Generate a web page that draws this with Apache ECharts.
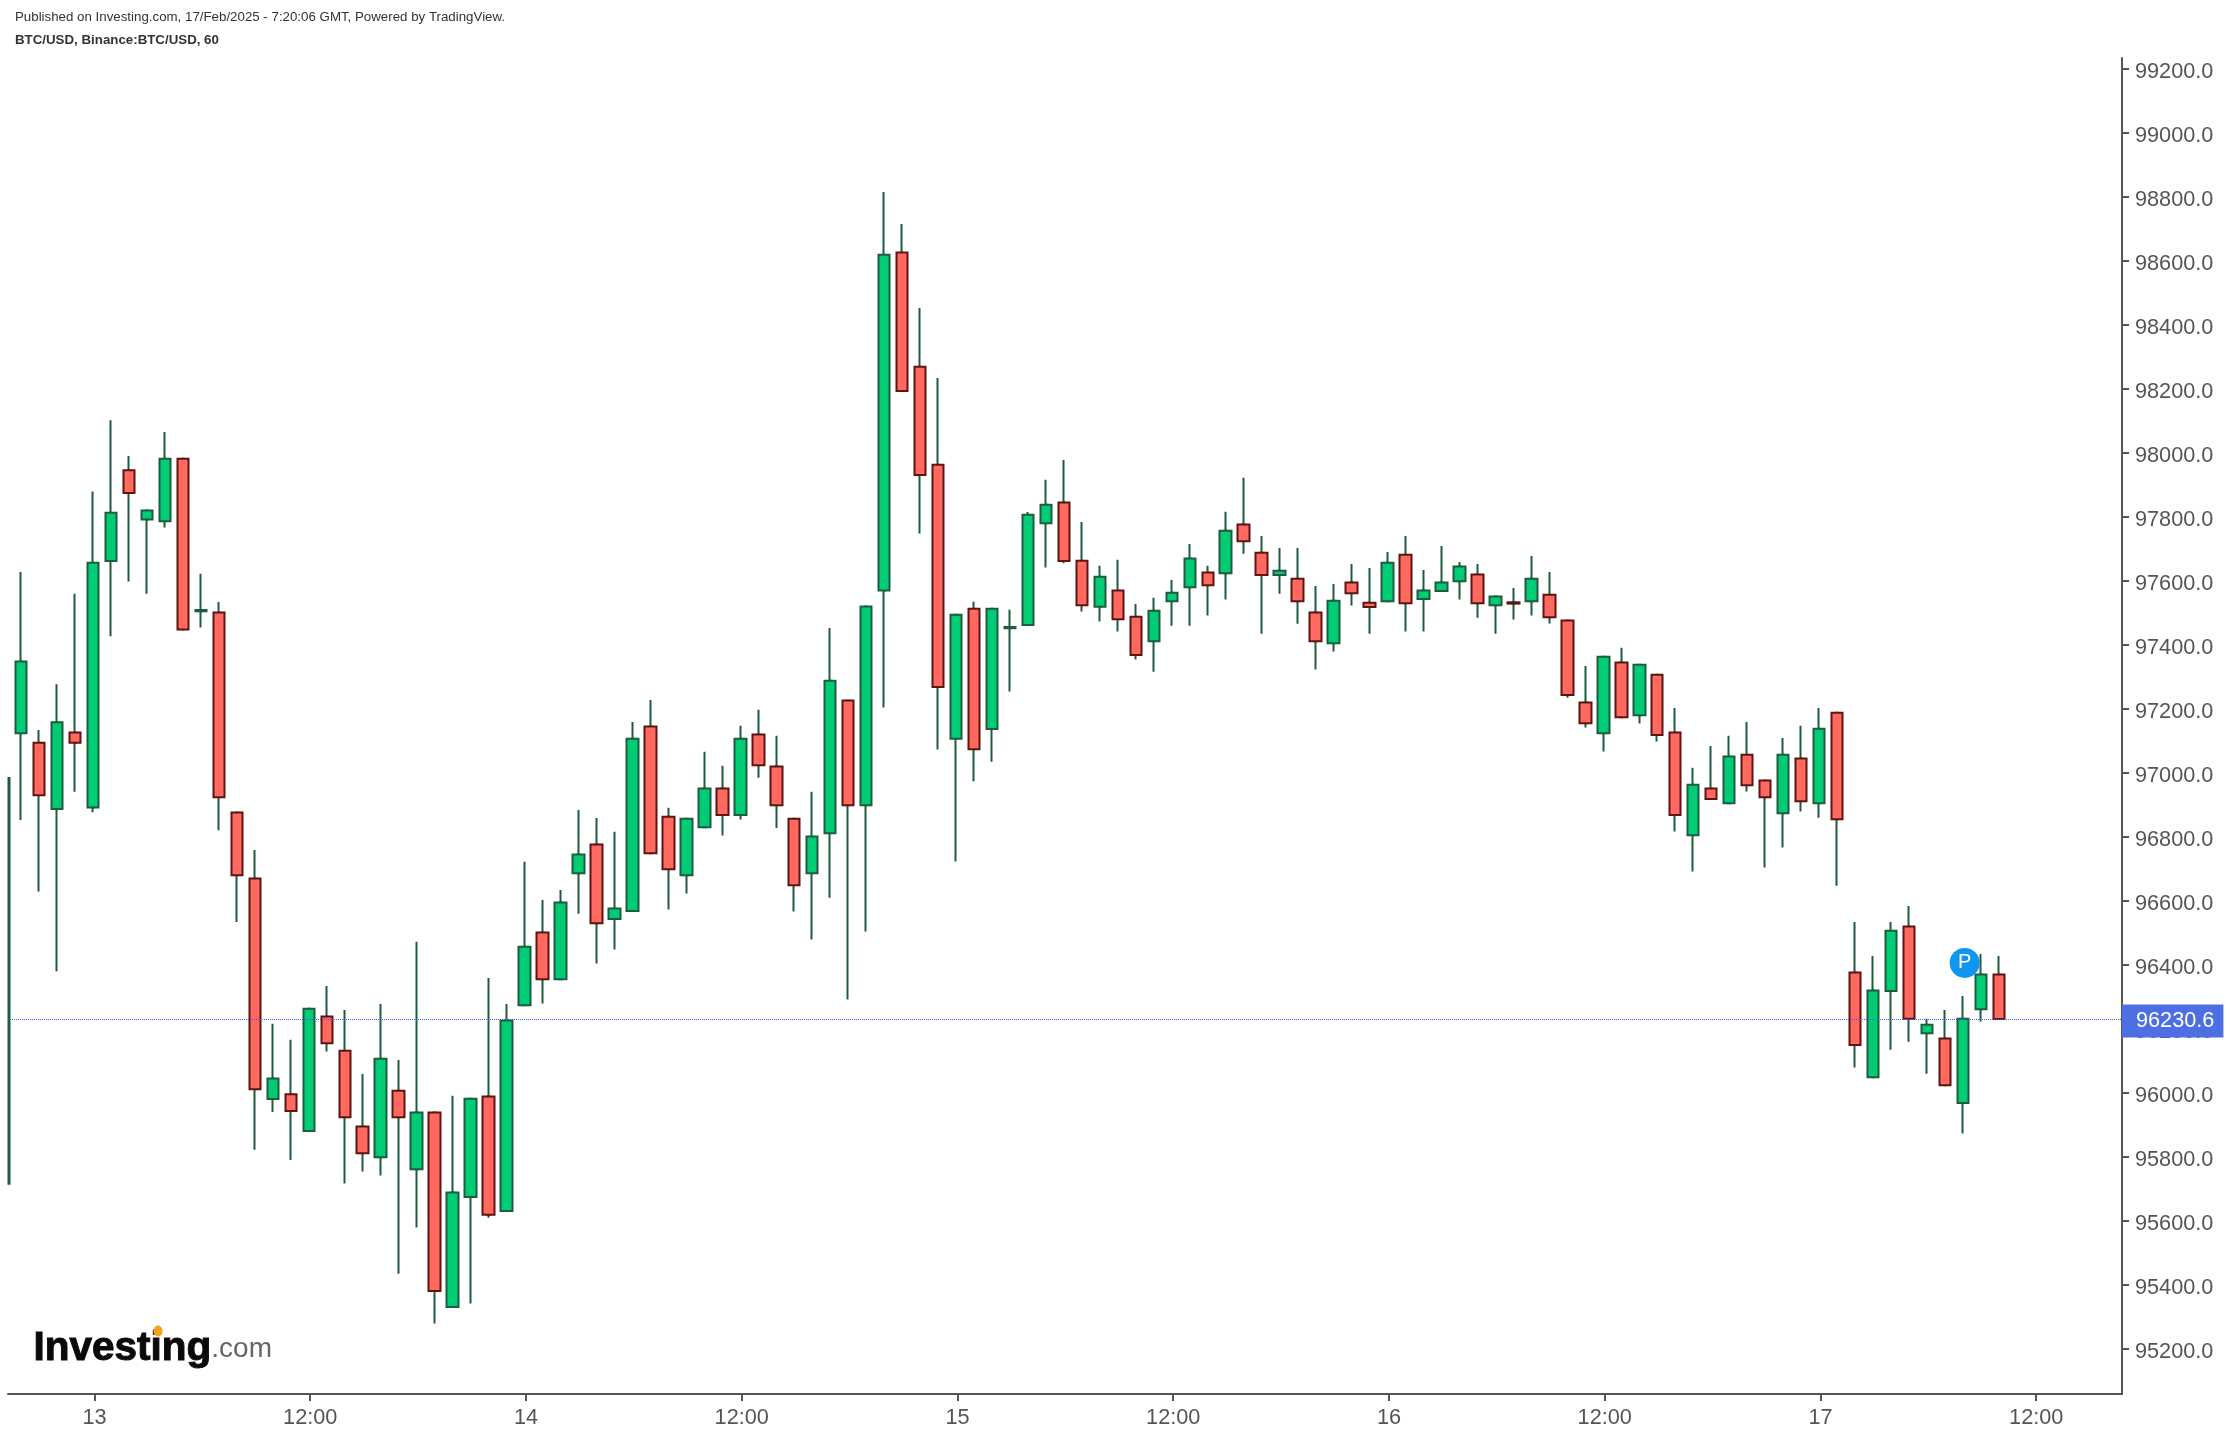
<!DOCTYPE html>
<html>
<head>
<meta charset="utf-8">
<title>BTC/USD</title>
<script src="https://cdn.jsdelivr.net/npm/echarts@6/dist/echarts.min.js"></script>
<style>
html, body { margin: 0; padding: 0; background: #fff; }
#chart { width: 2230px; height: 1436px; }
</style>
</head>
<body>
<div id="chart"></div>
<script>
// hours counted from 13 Feb 00:00, one candle per hour
// first entry is the candle cut by the left edge, only its right border shows
var hours = [-4.67,-4,-3,-2,-1,0,1,2,3,4,5,6,7,8,9,10,11,12,13,14,15,16,17,18,19,20,21,22,23,24,25,26,27,28,29,30,31,32,33,34,35,36,37,38,39,40,41,42,43,44,45,46,47,48,49,50,51,52,53,54,55,56,57,58,59,60,61,62,63,64,65,66,67,68,69,70,71,72,73,74,75,76,77,78,79,80,81,82,83,84,85,86,87,88,89,90,91,92,93,94,95,96,97,98,99,100,101,102,103,104,105,106];
var opens = [95716,97124,97094,96887,97126,96892,97662,97946,97792,97786,97982,97505,97501,96876,96670,95981,95996,95881,96239,96132,95895,95799,96007,95761,95939,95331,95675,95989,95631,96274,96501,96355,96686,96776,96543,96568,97145,96863,96680,96830,96951,96868,97120,97020,96857,96686,96811,97226,96899,97570,98626,98269,97963,97107,97513,97137,97452,97462,97780,97845,97663,97519,97570,97488,97411,97536,97580,97626,97624,97776,97688,97618,97607,97501,97405,97595,97532,97536,97682,97543,97568,97599,97620,97524,97533,97536,97557,97476,97220,97124,97345,97180,97307,97126,96805,96951,96905,97057,96976,96874,97045,96905,97188,96376,96049,96318,96520,96186,96170,95968,96261,96370];
var closes = [96984,97348,96930,97158,97094,97657,97813,97875,97820,97982,97448,97509,96924,96680,96011,96045,95943,96263,96155,95924,95811,96107,95924,95939,95381,95689,95982,95619,96226,96457,96355,96595,96745,96530,96576,97107,96749,96699,96857,96951,96868,97107,97024,96899,96649,96801,97288,96899,97520,98619,98193,97931,97268,97494,97074,97513,97456,97807,97838,97662,97524,97613,97480,97368,97507,97563,97670,97586,97757,97724,97618,97632,97536,97411,97538,97561,97518,97657,97530,97570,97595,97645,97530,97551,97529,97607,97486,97243,97155,97363,97174,97338,97118,96868,96963,96918,97051,96961,96924,97057,96911,97138,96855,96150,96320,96507,96232,96213,96024,96232,96370,96231];
var lows = [95716,96853,96629,96380,96941,96877,97427,97598,97560,97767,97448,97454,96821,96534,95822,95940,95790,95881,96129,95717,95754,95742,95435,95579,95279,95331,95342,95610,95631,96274,96279,96355,96560,96404,96448,96568,96749,96573,96623,96830,96804,96854,96985,96828,96567,96479,96610,96292,96504,97204,98193,97748,97073,96723,96974,97035,97254,97462,97642,97655,97504,97473,97442,97354,97316,97460,97460,97492,97542,97685,97435,97560,97466,97323,97379,97523,97435,97536,97442,97442,97568,97542,97485,97435,97479,97492,97467,97235,97142,97067,97174,97154,97098,96817,96692,96918,96905,96942,96704,96767,96879,96860,96647,96079,96049,96135,96160,96060,96024,95873,96223,96231];
var highs = [96984,97628,97134,97277,97560,97879,98102,97990,97820,98065,97982,97622,97534,96876,96759,96216,96166,96263,96334,96259,96059,96278,96103,96472,95939,95991,95982,96359,96278,96722,96603,96634,96884,96859,96816,97159,97228,96891,96857,97066,97022,97147,97197,97116,96857,96941,97453,97226,97520,98815,98715,98453,98234,97494,97535,97513,97510,97815,97916,97978,97784,97647,97666,97528,97547,97603,97715,97647,97816,97922,97740,97703,97703,97584,97590,97653,97640,97690,97740,97634,97709,97659,97653,97551,97578,97678,97628,97476,97334,97363,97391,97338,97307,97203,97016,97084,97116,97159,96976,97109,97147,97203,97188,96534,96428,96534,96584,96232,96259,96303,96434,96428];

var priceTicks = [95200,95400,95600,95800,96000,96200,96400,96600,96800,97000,97200,97400,97600,97800,98000,98200,98400,98600,98800,99000,99200];
var timeTicks = [0.08,12.08,24.08,36.08,48.08,60.08,72.08,84.08,96.08,108.08];
var timeLabels = ['13','12:00','14','12:00','15','12:00','16','12:00','17','12:00'];
var lastPrice = 96230.6;
var marker = [104.1, 96406];

var wickData = [];
var bodyData = [];
for (var i = 0; i < hours.length; i++) {
    wickData.push([hours[i], opens[i], closes[i], lows[i], highs[i]]);
    // wick is always green in the picture, so bodies go on top without wicks
    if (i > 0) {
        bodyData.push([hours[i], opens[i], closes[i], Math.min(opens[i], closes[i]), Math.max(opens[i], closes[i])]);
    }
}

var myChart = echarts.init(document.getElementById('chart'));
var axisColor = '#555555';
var fontName = '"Liberation Sans", Arial, sans-serif';

var option = {
    animation: false,
    backgroundColor: '#ffffff',
    title: [
        {
            text: 'Published on Investing.com, 17/Feb/2025 - 7:20:06 GMT, Powered by TradingView.',
            left: 10, top: 6,
            textStyle: { fontFamily: fontName, fontSize: 13.3, fontWeight: 'normal', color: '#333333' }
        },
        {
            text: 'BTC/USD, Binance:BTC/USD, 60',
            left: 10, top: 29,
            textStyle: { fontFamily: fontName, fontSize: 13.3, fontWeight: 'bold', color: '#333333' }
        }
    ],
    grid: { left: 8, right: 108, top: 58, bottom: 42 },
    xAxis: {
        type: 'value',
        min: -4.73,
        max: 112.85,
        splitLine: { show: false },
        axisLine: { onZero: false, lineStyle: { color: axisColor, width: 2 } },
        axisTick: { length: 7, customValues: timeTicks, lineStyle: { color: axisColor, width: 2 } },
        axisLabel: {
            customValues: timeTicks,
            margin: 13,
            fontFamily: fontName,
            fontSize: 21.7,
            color: axisColor,
            formatter: function (v) { return timeLabels[timeTicks.indexOf(v)]; }
        }
    },
    yAxis: {
        type: 'value',
        position: 'right',
        min: 95059,
        max: 99234,
        splitLine: { show: false },
        axisLine: { show: true, onZero: false, lineStyle: { color: axisColor, width: 2 } },
        axisTick: { show: true, length: 7, customValues: priceTicks, lineStyle: { color: axisColor, width: 2 } },
        axisLabel: {
            customValues: priceTicks,
            margin: 13,
            formatter: function (v) { return '{t|' + v.toFixed(1) + '}'; },
            rich: {
                t: {
                    padding: [6, 0, 0, 0],
                    fontFamily: fontName,
                    fontSize: 21.7,
                    color: axisColor
                }
            }
        }
    },
    series: [
        {
            name: 'wicks',
            type: 'candlestick',
            barWidth: 2,
            z: 2,
            silent: true,
            itemStyle: {
                color: '#1f5c3f', color0: '#1f5c3f',
                borderColor: '#1f5c3f', borderColor0: '#1f5c3f',
                borderWidth: 2
            },
            data: wickData
        },
        {
            name: 'BTC/USD',
            type: 'candlestick',
            barWidth: 12,
            z: 3,
            silent: true,
            itemStyle: {
                color: '#00cc75', color0: '#ff6960',
                borderColor: '#1f5c3f', borderColor0: '#5e1512',
                borderWidth: 2
            },
            data: bodyData,
            markLine: {
                silent: true,
                symbol: 'none',
                animation: false,
                lineStyle: { type: 'dotted', width: 1, color: '#3d5fe0' },
                label: {
                    position: 'end',
                    distance: 0,
                    offset: [0, 2],
                    formatter: lastPrice.toFixed(1),
                    backgroundColor: '#4d6fe3',
                    color: '#ffffff',
                    fontFamily: fontName,
                    fontSize: 21.7,
                    padding: [6, 9, 5, 14]
                },
                data: [{ yAxis: lastPrice }]
            },
            markPoint: {
                silent: true,
                animation: false,
                symbol: 'circle',
                symbolSize: 30,
                itemStyle: { color: '#0e96f0' },
                label: { show: true, formatter: 'P', color: '#ffffff', fontFamily: fontName, fontSize: 20 },
                data: [{ coord: marker }]
            }
        }
    ],
    graphic: [
        {
            type: 'text',
            left: 33,
            top: 1328,
            style: {
                rich: {
                    a: { fontFamily: fontName, fontSize: 40.5, fontWeight: 'bold', fill: '#0a0a0a', stroke: '#0a0a0a', lineWidth: 1 },
                    b: { fontFamily: fontName, fontSize: 28, fill: '#666666' }
                },
                text: '{a|Investing}{b|.com}'
            }
        },
        {
            type: 'ellipse',
            z: 10,
            shape: { cx: 158, cy: 1331, rx: 4.5, ry: 5.5 },
            style: { fill: '#f7a21b' }
        }
    ]
};
myChart.setOption(option);
</script>
</body>
</html>
